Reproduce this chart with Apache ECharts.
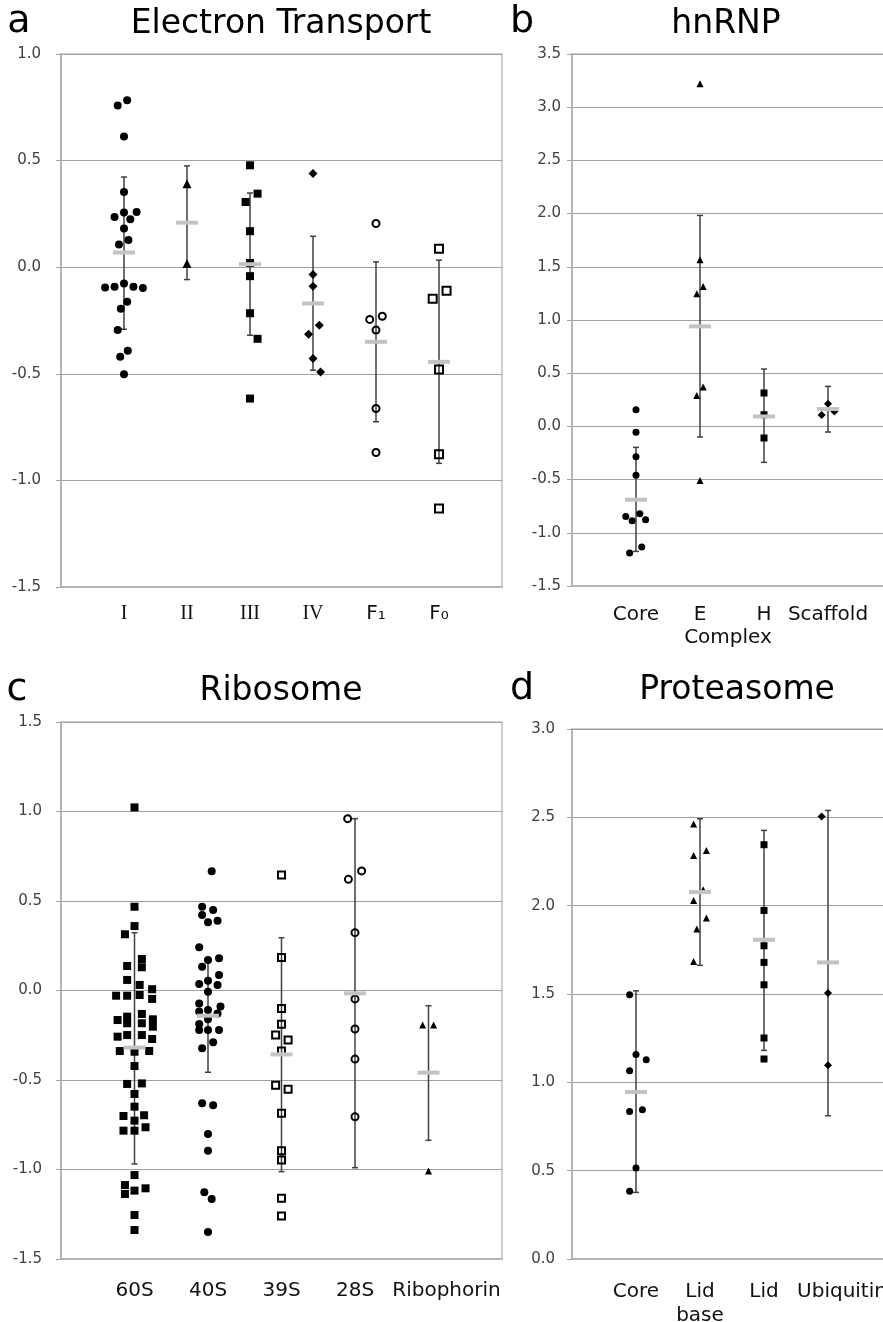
<!DOCTYPE html>
<html><head><meta charset="utf-8">
<script src="https://cdn.jsdelivr.net/npm/echarts@6/dist/echarts.min.js"></script>
<style>html,body{margin:0;padding:0;background:#fff}#c{width:883px;height:1322px}</style>
</head><body><div id="c"></div>
<script>
// ---------- Panel a: Electron Transport ----------
const catsA = ['I', 'II', 'III', 'IV', 'F₁', 'F₀'];
const vA_I = [0.759, 0.783, 0.613, 0.353, 0.236, 0.256, 0.259, 0.225, 0.181, 0.106, 0.127, -0.095, -0.092, -0.077, -0.092, -0.098, -0.162, -0.195, -0.295, -0.420, -0.392, -0.502];
const jA_I = [-0.1, 0.05, 0, 0, -0.15, 0, 0.2, 0.1, 0, -0.08, 0.07, -0.3, -0.15, 0, 0.15, 0.3, 0.05, -0.05, -0.1, -0.06, 0.06, 0];
const vA_II = [0.392, 0.017];
const jA_II = [0, 0];
const vA_III = [0.478, 0.345, 0.306, 0.169, 0.02, -0.042, -0.216, -0.336, -0.616];
const jA_III = [0, 0.12, -0.07, 0, 0, 0, 0, 0.12, 0];
const vA_IV = [0.439, -0.034, -0.089, -0.272, -0.314, -0.428, -0.492];
const jA_IV = [0, 0, 0, 0.1, -0.07, 0, 0.12];
const vA_F1 = [0.205, -0.245, -0.230, -0.295, -0.663, -0.869];
const jA_F1 = [0, -0.1, 0.1, 0, 0, 0];
const vA_F0 = [0.087, -0.111, -0.148, -0.480, -0.877, -1.132];
const jA_F0 = [0, 0.12, -0.1, 0, 0, 0];
const meanA = [0.069, 0.209, 0.014, -0.170, -0.350, -0.444];
const hiA = [0.423, 0.475, 0.348, 0.145, 0.025, 0.033];
const loA = [-0.291, -0.058, -0.319, -0.483, -0.725, -0.920];

// ---------- Panel b: hnRNP ----------
const catsB = ['Core', 'E', 'H', 'Scaffold'];
const vB_Core = [0.157, -0.056, -0.285, -0.460, -0.846, -0.820, -0.886, -0.877, -1.134, -1.190];
const jB_Core = [0, 0, 0, 0, -0.16, 0.06, -0.06, 0.15, 0.09, -0.1];
const vB_E = [3.221, 1.567, 1.316, 1.247, 0.370, 0.291, -0.508];
const jB_E = [0, 0, 0.05, -0.05, 0.05, -0.05, 0];
const vB_H = [0.314, 0.11, -0.109];
const jB_H = [0, 0, 0];
const vB_Sc = [0.213, 0.107, 0.141];
const jB_Sc = [0, -0.1, 0.1];
const meanB = [-0.689, 0.94, 0.094, 0.163];
const hiB = [-0.197, 1.983, 0.539, 0.376];
const loB = [-1.175, -0.1, -0.338, -0.053];

// ---------- Panel c: Ribosome ----------
const catsC = ['60S', '40S', '39S', '28S', 'Ribophorin'];
const vC_60 = [1.023, 0.468, 0.360, 0.314, 0.176, 0.137, 0.130, 0.059, 0.031, 0.007, -0.029, -0.029, -0.025, -0.047, -0.165, -0.146, -0.131, -0.161, -0.183, -0.183, -0.202, -0.258, -0.249, -0.249, -0.271, -0.338, -0.342, -0.338, -0.422, -0.522, -0.519, -0.578, -0.649, -0.701, -0.697, -0.727, -0.783, -0.783, -0.764, -1.031, -1.087, -1.137, -1.118, -1.105, -1.254, -1.338];
const jC_60 = [0, 0, 0, -0.13, 0.1, -0.1, 0.1, -0.1, 0.07, 0.24, -0.25, -0.1, 0.07, 0.24, -0.23, -0.1, 0.1, 0.25, -0.1, 0.1, 0.25, -0.23, -0.1, 0.1, 0.24, -0.2, 0, 0.2, 0, -0.1, 0.1, 0, 0, -0.15, 0.13, 0, -0.15, 0, 0.15, 0, -0.13, -0.13, 0, 0.15, 0, 0];
const vC_40 = [0.666, 0.468, 0.450, 0.422, 0.381, 0.390, 0.241, 0.170, 0.180, 0.133, 0.087, 0.036, 0.055, 0.031, -0.007, -0.072, -0.090, -0.118, -0.109, -0.128, -0.161, -0.187, -0.221, -0.221, -0.221, -0.289, -0.323, -0.630, -0.641, -0.802, -0.895, -1.127, -1.165, -1.349];
const jC_40 = [0.05, -0.08, 0.07, -0.08, 0, 0.13, -0.12, 0, 0.15, -0.08, 0.15, -0.12, 0, 0.13, 0, -0.12, 0.17, -0.12, 0, 0.13, 0, -0.12, -0.12, 0, 0.15, 0.07, -0.08, -0.08, 0.07, 0, 0, -0.05, 0.05, 0];
const vC_39 = [0.645, 0.185, -0.100, -0.189, -0.249, -0.277, -0.338, -0.530, -0.552, -0.686, -0.895, -0.947, -1.161, -1.260];
const jC_39 = [0, 0, 0, 0, -0.08, 0.09, 0, -0.08, 0.09, 0, 0, 0, 0, 0];
const vC_28 = [0.960, 0.668, 0.621, 0.323, -0.047, -0.215, -0.383, -0.705];
const jC_28 = [-0.1, 0.09, -0.09, 0, 0, 0, 0, 0];
const vC_Rib = [-0.193, -0.193, -1.008];
const jC_Rib = [-0.08, 0.07, 0];
const meanC = [-0.319, -0.141, -0.357, -0.016, -0.459];
const hiC = [0.323, 0.175, 0.295, 0.960, -0.085];
const loC = [-0.969, -0.457, -1.012, -0.990, -0.837];

// ---------- Panel d: Proteasome ----------
const catsD = ['Core', 'Lid\nbase', 'Lid', 'Ubiquitin'];
const vD_Core = [1.496, 1.158, 1.128, 1.066, 0.835, 0.845, 0.515, 0.383];
const jD_Core = [-0.1, 0, 0.16, -0.1, -0.1, 0.1, 0, -0.1];
const vD_LidB = [2.462, 2.284, 2.312, 2.09, 2.029, 1.930, 1.868, 1.684];
const jD_LidB = [-0.1, -0.1, 0.1, 0.05, -0.1, 0.1, -0.05, -0.1];
const vD_Lid = [2.345, 1.973, 1.773, 1.679, 1.552, 1.251, 1.132];
const jD_Lid = [0, 0, 0, 0, 0, 0, 0];
const vD_Ub = [2.505, 1.505, 1.096];
const jD_Ub = [-0.1, 0, 0];
const meanD = [0.945, 2.077, 1.807, 1.679];
const hiD = [1.518, 2.492, 2.426, 2.539];
const loD = [0.377, 1.662, 1.181, 0.811];

// ---------- build ----------
const GRID = '#a0a0a0', AXIS = '#b4b4b4', LBL = '#404040';

function symStyle(kind, size) {
  const open = kind.indexOf('open') === 0;
  const symbol = open ? (kind === 'openCircle' ? 'circle' : 'rect') : kind;
  return {
    symbol, symbolSize: size,
    itemStyle: open ? {color: 'rgba(0,0,0,0)', borderColor: '#000', borderWidth: 2, opacity: 1}
                    : {color: '#000', opacity: 1}
  };
}

function errRender(params, api) {
  const x = api.value(0), hi = api.value(1), lo = api.value(2);
  const a = api.coord([x, hi]), b = api.coord([x, lo]);
  const st = {stroke: '#404040', lineWidth: 1.5};
  return {type: 'group', children: [
    {type: 'line', shape: {x1: a[0], y1: a[1], x2: b[0], y2: b[1]}, style: st},
    {type: 'line', shape: {x1: a[0] - 3, y1: a[1], x2: a[0] + 3, y2: a[1]}, style: st},
    {type: 'line', shape: {x1: b[0] - 3, y1: b[1], x2: b[0] + 3, y2: b[1]}, style: st}
  ]};
}
function meanRender(params, api) {
  const p = api.coord([api.value(0), api.value(1)]);
  return {type: 'rect', shape: {x: p[0] - 11, y: p[1] - 2, width: 22, height: 4}, style: {fill: '#c3c3c3'}};
}

const series = [];
function addPanel(gi, vals, jits, kinds, sizes, means, his, los) {
  const idx = means.map((m, i) => i + 1);
  series.push({type: 'custom', xAxisIndex: gi, yAxisIndex: gi, z: 1, silent: true,
    data: idx.map((x, i) => [x, his[i], los[i]]), renderItem: errRender});
  vals.forEach((vs, c) => {
    const s = symStyle(kinds[c], sizes[c]);
    series.push(Object.assign({type: 'scatter', xAxisIndex: gi, yAxisIndex: gi, z: 2, silent: true,
      emphasis: {disabled: true},
      data: vs.map((v, i) => [c + 1 + jits[c][i], v])}, s));
  });
  series.push({type: 'custom', xAxisIndex: gi, yAxisIndex: gi, z: 3, silent: true,
    data: idx.map((x, i) => [x, means[i]]), renderItem: meanRender});
}

addPanel(0, [vA_I, vA_II, vA_III, vA_IV, vA_F1, vA_F0], [jA_I, jA_II, jA_III, jA_IV, jA_F1, jA_F0],
  ['circle', 'triangle', 'rect', 'diamond', 'openCircle', 'openRect'], [8, 9, 8, 9, 7, 8], meanA, hiA, loA);
addPanel(1, [vB_Core, vB_E, vB_H, vB_Sc], [jB_Core, jB_E, jB_H, jB_Sc],
  ['circle', 'triangle', 'rect', 'diamond'], [7, 7, 7, 8], meanB, hiB, loB);
addPanel(2, [vC_60, vC_40, vC_39, vC_28, vC_Rib], [jC_60, jC_40, jC_39, jC_28, jC_Rib],
  ['rect', 'circle', 'openRect', 'openCircle', 'triangle'], [8, 8, 7, 7, 7], meanC, hiC, loC);
addPanel(3, [vD_Core, vD_LidB, vD_Lid, vD_Ub], [jD_Core, jD_LidB, jD_Lid, jD_Ub],
  ['circle', 'triangle', 'rect', 'diamond'], [7, 7, 7, 8], meanD, hiD, loD);

function yAx(gi, min, max, margin) {
  return {type: 'value', gridIndex: gi, min, max, interval: 0.5,
    axisLine: {show: true, lineStyle: {color: AXIS, width: 2}},
    axisTick: {show: true, length: 5, lineStyle: {color: GRID}},
    splitLine: {show: true, lineStyle: {color: GRID, width: 1}},
    axisLabel: {margin, fontFamily: 'DejaVu Sans', fontSize: 15, color: LBL, formatter: v => v.toFixed(1)}};
}
// label formatter: roman numerals in serif, everything else sans; last labels nudged right as in the source
function xAx(gi, max, cats, margin, extra) {
  return Object.assign({type: 'value', gridIndex: gi, min: 0, max, interval: 1,
    axisLine: {show: true, onZero: false, lineStyle: {color: AXIS, width: 2}},
    axisTick: {show: false}, splitLine: {show: false},
    axisLabel: {margin, fontFamily: 'DejaVu Sans', fontSize: 20, lineHeight: 24, color: '#111',
      showMinLabel: true, showMaxLabel: true, hideOverlap: false,
      formatter: v => {
        const t = cats[Math.round(v) - 1];
        if (!t) return '';
        if (/^[IV]+$/.test(t)) return '{s|' + t + '}';
        if (t === 'Ribophorin') return '{r|' + t + '}';
        if (t === 'Ubiquitin') return '{u|' + t + '}';
        return t;
      },
      rich: {
        s: {fontFamily: 'Liberation Serif', fontSize: 20, color: '#111'},
        r: {fontFamily: 'DejaVu Sans', fontSize: 20, color: '#111', padding: [0, 0, 0, 36]},
        u: {fontFamily: 'DejaVu Sans', fontSize: 20, color: '#111', padding: [0, 0, 0, 28]}
      }}}, extra || {});
}

function txt(x, y, text, size) {
  return {type: 'text', x, y, silent: true,
    style: {text, font: size + 'px "DejaVu Sans"', fill: '#000', align: 'center', verticalAlign: 'middle',
      textAlign: 'center', textVerticalAlign: 'middle'}};
}

const gridStyle = {show: true, borderColor: GRID, borderWidth: 1, backgroundColor: '#fff',
  containLabel: false, outerBoundsMode: 'none'};
const option = {
  animation: false,
  backgroundColor: '#fff',
  grid: [
    Object.assign({left: 61, top: 54, width: 441, height: 533}, gridStyle),
    Object.assign({left: 572, top: 54, width: 320, height: 532}, gridStyle),
    Object.assign({left: 61, top: 722, width: 441, height: 537}, gridStyle),
    Object.assign({left: 572, top: 729, width: 320, height: 530}, gridStyle)
  ],
  xAxis: [
    xAx(0, 7, catsA, 15),
    xAx(1, 5, catsB, 17, {name: 'Complex', nameLocation: 'middle', nameGap: 41,
      nameTextStyle: {fontFamily: 'DejaVu Sans', fontSize: 20, color: '#111', padding: [0, 8, 0, 0]}}),
    xAx(2, 6, catsC, 20),
    xAx(3, 5, catsD, 21)
  ],
  yAxis: [
    yAx(0, -1.5, 1.0, 20),
    yAx(1, -1.5, 3.5, 11),
    yAx(2, -1.5, 1.5, 19),
    yAx(3, 0, 3.0, 17)
  ],
  graphic: [
    txt(19, 22, 'a', 38), txt(281, 24, 'Electron Transport', 33),
    txt(522, 22, 'b', 38), txt(726, 24, 'hnRNP', 33),
    txt(17, 690, 'c', 38), txt(281, 691, 'Ribosome', 33),
    txt(522, 689, 'd', 38), txt(737, 690, 'Proteasome', 33)
  ],
  series
};
const chart = echarts.init(document.getElementById('c'), null, {renderer: 'canvas', width: 883, height: 1322});
chart.setOption(option);
</script></body></html>
